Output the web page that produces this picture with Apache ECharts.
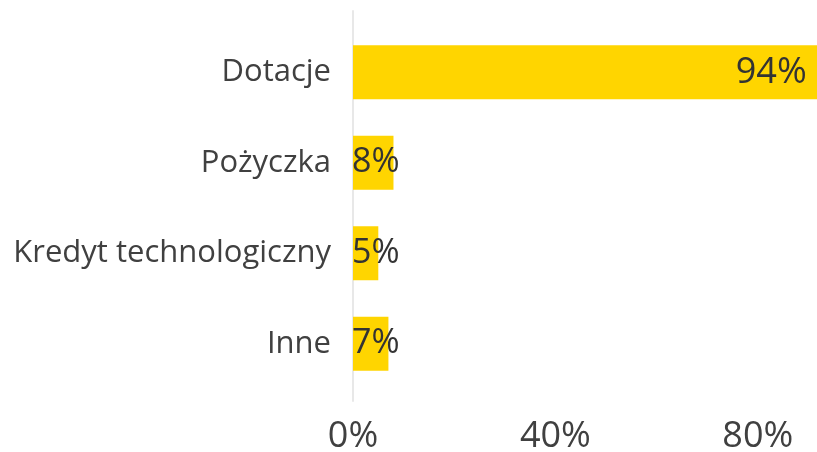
<!DOCTYPE html>
<html>
<head>
<meta charset="utf-8">
<script src="https://cdn.jsdelivr.net/npm/echarts@6/dist/echarts.min.js"></script>
<style>
  html, body { margin: 0; padding: 0; background: #fff; }
  #main { width: 817px; height: 452px; }
</style>
</head>
<body>
<div id="main"></div>
<script>
// dane wykresu
var categories = ['Dotacje', 'Pożyczka', 'Kredyt technologiczny', 'Inne'];
var shares = [94, 8, 5, 7];
var tickValues = [0, 40, 80];

var myChart = echarts.init(document.getElementById('main'));

var barData = shares.map(function (v, i) {
    if (i === 0) {
        return { value: v, label: { position: 'insideRight', distance: 22, fontSize: 36 } };
    }
    return { value: v };
});

var option = {
    animation: false,
    textStyle: { fontFamily: 'Open Sans' },
    grid: [
        // tylko pionowa linia osi
        { left: 353, width: 506, top: 11, height: 390, outerBoundsMode: 'none' },
        // slupki
        { left: 353, width: 506, top: 27, height: 362, outerBoundsMode: 'none' }
    ],
    xAxis: [
        {
            gridIndex: 0, type: 'value', min: 0, max: 100, show: false
        },
        {
            gridIndex: 1,
            type: 'value',
            min: 0,
            max: 100,
            interval: 40,
            axisLine: { show: false },
            axisTick: { show: false },
            splitLine: { show: false },
            axisLabel: {
                margin: 30,
                fontSize: 36,
                color: '#404040',
                formatter: function (v) {
                    return tickValues.indexOf(v) >= 0 ? v + '%' : '';
                }
            }
        }
    ],
    yAxis: [
        {
            gridIndex: 0,
            type: 'value',
            axisLine: { show: true, lineStyle: { color: '#e8e8e8', width: 2 } },
            axisTick: { show: false },
            axisLabel: { show: false },
            splitLine: { show: false }
        },
        {
            gridIndex: 1,
            type: 'category',
            inverse: true,
            data: categories,
            axisLine: { show: false },
            axisTick: { show: false },
            axisLabel: {
                margin: 22,
                fontSize: 31,
                color: '#404040'
            }
        }
    ],
    series: [
        {
            type: 'bar',
            xAxisIndex: 1,
            yAxisIndex: 1,
            data: barData,
            barWidth: 54,
            itemStyle: { color: '#FFD500' },
            label: {
                show: true,
                position: 'insideLeft',
                distance: -1,
                fontSize: 34,
                color: '#333333',
                formatter: '{c}%'
            }
        }
    ]
};

myChart.setOption(option);
</script>
</body>
</html>
